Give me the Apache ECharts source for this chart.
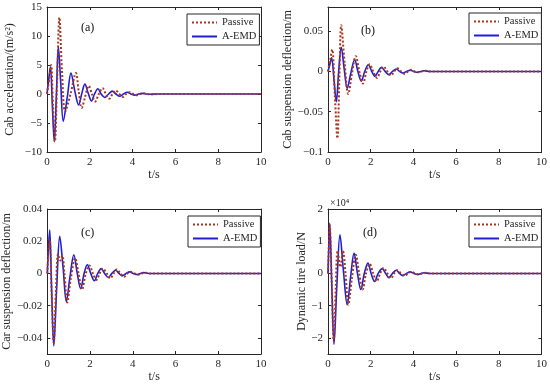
<!DOCTYPE html>
<html>
<head>
<meta charset="utf-8">
<script src="https://cdn.jsdelivr.net/npm/echarts@6/dist/echarts.min.js"></script>
<style>html,body{margin:0;padding:0;background:#fff}#c{width:550px;height:384px}</style>
</head>
<body>
<div id="c"></div>
<script>
// ---- Data (t in s, value) ----
const seriesNames = ['Passive', 'A-EMD'];
const xTicks = [0, 2, 4, 6, 8, 10];

// (a) Cab acceleration (m/s^2)
const accPassive = [[0,0],[0.1,2.5],[0.19,5.0],[0.28,-2],[0.37,-8.2],[0.47,2],[0.58,13.2],[0.7,4],[0.85,-3.0],[1.1,0],[1.35,3.6],[1.48,0.5],[1.62,-2.4],[1.78,-0.5],[1.95,1.4],[2.1,0],[2.25,-1.3],[2.42,0],[2.6,1.0],[2.75,0],[2.92,-0.8],[3.06,0],[3.22,0.6],[3.38,0],[3.55,-0.5],[3.7,0],[3.87,0.3],[4.03,0],[4.2,-0.2],[4.35,0],[4.52,0.15],[4.7,0],[4.87,-0.07],[5.2,0],[10,0]];
const accEmd = [[0,0],[0.08,2.5],[0.16,4.7],[0.25,-2],[0.34,-8.2],[0.44,0],[0.53,8.2],[0.64,2],[0.76,-4.7],[0.95,-0.5],[1.12,3.6],[1.3,0.5],[1.48,-1.9],[1.62,0],[1.77,1.7],[1.92,0.2],[2.08,-1.2],[2.22,0],[2.38,0.9],[2.53,0],[2.7,-0.6],[2.88,0],[3.05,0.5],[3.22,0],[3.4,-0.4],[3.57,0],[3.75,0.3],[3.92,0],[4.1,-0.2],[4.28,0],[4.45,0.1],[4.63,0],[4.8,-0.05],[5.1,0],[10,0]];
const accTicks = [-10, -5, 0, 5, 10, 15];

// (b) Cab suspension deflection (m)
const cabPassive = [[0,0],[0.1,0.014],[0.2,0.027],[0.32,-0.03],[0.44,-0.083],[0.53,-0.01],[0.62,0.0575],[0.78,0.01],[0.95,-0.028],[1.12,-0.003],[1.3,0.019],[1.47,0],[1.64,-0.015],[1.8,0],[1.95,0.009],[2.12,0],[2.3,-0.008],[2.45,0],[2.6,0.006],[2.78,0],[2.95,-0.005],[3.1,0],[3.25,0.004],[3.42,0],[3.6,-0.003],[3.75,0],[3.9,0.002],[4.05,0],[4.2,-0.001],[4.38,0],[4.55,0.001],[4.8,0],[10,0]];
const cabEmd = [[0,0],[0.08,0.008],[0.17,0.017],[0.28,-0.01],[0.39,-0.0375],[0.5,0],[0.62,0.030],[0.76,0.003],[0.9,-0.021],[1.07,-0.002],[1.25,0.0146],[1.4,0],[1.56,-0.012],[1.72,0],[1.89,0.0083],[2.05,0],[2.2,-0.006],[2.35,0],[2.5,0.005],[2.68,0],[2.85,-0.004],[3.02,0],[3.2,0.003],[3.35,0],[3.5,-0.002],[3.68,0],[3.85,0.0015],[4.02,0],[4.2,-0.001],[4.35,0],[4.5,0.0008],[4.75,0],[10,0]];
const cabTicks = [-0.1, -0.05, 0, 0.05];

// (c) Car suspension deflection (m)
const carPassive = [[0,0],[0.05,0.012],[0.11,0.021],[0.2,-0.012],[0.3,-0.043],[0.4,-0.012],[0.5,0.012],[0.6,0.008],[0.7,0.011],[0.8,0],[0.93,-0.018],[1.1,-0.003],[1.3,0.0095],[1.46,0],[1.62,-0.01],[1.8,0],[1.97,0.005],[2.13,0],[2.3,-0.004],[2.45,0],[2.6,0.003],[2.78,0],[2.95,-0.003],[3.1,0],[3.25,0.0025],[3.42,0],[3.6,-0.002],[3.75,0],[3.9,0.001],[4.08,0],[4.25,-0.0008],[4.42,0],[4.6,0.0005],[4.8,0],[10,0]];
const carEmd = [[0,0],[0.05,0.016],[0.11,0.027],[0.2,-0.01],[0.3,-0.045],[0.44,-0.008],[0.58,0.023],[0.74,0.003],[0.89,-0.0174],[1.06,-0.002],[1.24,0.0116],[1.4,0],[1.56,-0.0095],[1.72,0],[1.87,0.0054],[2.03,0],[2.2,-0.0045],[2.36,0],[2.52,0.003],[2.68,0],[2.85,-0.0025],[3.02,0],[3.2,0.002],[3.35,0],[3.5,-0.0015],[3.68,0],[3.85,0.001],[4.02,0],[4.2,-0.0007],[4.35,0],[4.5,0.0005],[4.75,0],[10,0]];
const carTicks = [-0.04, -0.02, 0, 0.02, 0.04];

// (d) Dynamic tire load (N)
const tirePassive = [[0,0],[0.04,8500],[0.08,15000],[0.17,-2000],[0.27,-21000],[0.36,-5000],[0.45,7000],[0.58,2000],[0.7,7000],[0.82,0],[0.95,-9700],[1.12,-1500],[1.3,5800],[1.46,0],[1.62,-5000],[1.78,0],[1.95,3000],[2.12,0],[2.28,-2500],[2.44,0],[2.6,1700],[2.78,0],[2.95,-1500],[3.1,0],[3.25,1000],[3.42,0],[3.6,-700],[3.75,0],[3.9,500],[4.08,0],[4.25,-300],[4.42,0],[4.6,200],[4.8,0],[10,0]];
const tireEmd = [[0,0],[0.04,9000],[0.08,15600],[0.17,-2000],[0.28,-22000],[0.42,-3000],[0.56,12000],[0.72,1000],[0.9,-9700],[1.06,-1000],[1.22,6300],[1.38,0],[1.54,-5000],[1.7,0],[1.87,3200],[2.02,0],[2.18,-2500],[2.35,0],[2.54,1500],[2.7,0],[2.85,-1300],[3.02,0],[3.2,1000],[3.35,0],[3.5,-700],[3.68,0],[3.85,500],[4.02,0],[4.2,-300],[4.35,0],[4.5,200],[4.75,0],[10,0]];
const tireTicks = [-20000, -10000, 0, 10000, 20000];

// ---- Layout / style ----
const FONT = '"Liberation Serif", "DejaVu Serif", serif';
const AX = '#262626';
const C_PASSIVE = '#a8361f';
const C_EMD = '#1f1fd6';
const minus = s => String(s).replace('-', '\u2212');

const panels = [
  {left:47, top:7, ymin:-10, ymax:15, ticks:accTicks, fmt:v=>minus(v), yname:'Cab acceleration/(m/s\u00B2)', gap:31,
   p:accPassive, e:accEmd, tag:'(a)', tagPos:[90,29], legPos:[187,14]},
  {left:328, top:7, ymin:-0.1, ymax:0.08, ticks:cabTicks, fmt:v=>minus(v), yname:'Cab suspension deflection/m', gap:33,
   p:cabPassive, e:cabEmd, tag:'(b)', tagPos:[370,32], legPos:[469,13]},
  {left:47, top:209, ymin:-0.05, ymax:0.04, ticks:carTicks, fmt:v=>minus(v), yname:'Car suspension deflection/m', gap:32,
   p:carPassive, e:carEmd, tag:'(c)', tagPos:[90,234], legPos:[188,216]},
  {left:328, top:209, ymin:-25000, ymax:20000, ticks:tireTicks, fmt:v=>minus(v/10000), yname:'Dynamic tire load/N', gap:20,
   p:tirePassive, e:tireEmd, tag:'(d)', tagPos:[372,234], legPos:[469,216]}
];
const W = 214, H = 145;

const option = {
  backgroundColor: '#fff',
  animation: false,
  grid: [], xAxis: [], yAxis: [], series: [], legend: [], graphic: []
};

panels.forEach((pn, i) => {
  option.grid.push({left: pn.left, top: pn.top, width: W, height: H, show: false});
  const lineCommon = {show: true, onZero: false, lineStyle: {color: AX, width: 1}};
  const tickCommon = {show: true, inside: true, length: 3, lineStyle: {color: AX, width: 1}};
  option.xAxis.push({
    type: 'value', gridIndex: i, position: 'bottom', min: 0, max: 10, interval: 2,
    axisLine: lineCommon, axisTick: tickCommon, splitLine: {show: false},
    axisLabel: {show: true, margin: 5, fontSize: 11, fontFamily: FONT, color: AX},
    name: 't/s', nameLocation: 'middle', nameGap: 15,
    nameTextStyle: {fontSize: 12, fontFamily: FONT, color: AX}
  });
  option.xAxis.push({
    type: 'value', gridIndex: i, position: 'top', min: 0, max: 10, interval: 2,
    axisLine: lineCommon, axisTick: tickCommon, splitLine: {show: false},
    axisLabel: {show: false}
  });
  option.yAxis.push({
    type: 'value', gridIndex: i, position: 'left', min: pn.ymin, max: pn.ymax,
    axisLine: lineCommon,
    axisTick: Object.assign({customValues: pn.ticks}, tickCommon),
    splitLine: {show: false},
    axisLabel: {show: true, customValues: pn.ticks, margin: 5, fontSize: 11, fontFamily: FONT, color: AX, formatter: pn.fmt},
    name: pn.yname, nameLocation: 'middle', nameGap: pn.gap, nameRotate: 90,
    nameTextStyle: {fontSize: 12, fontFamily: FONT, color: AX}
  });
  option.yAxis.push({
    type: 'value', gridIndex: i, position: 'right', min: pn.ymin, max: pn.ymax,
    axisLine: lineCommon,
    axisTick: Object.assign({customValues: pn.ticks}, tickCommon),
    splitLine: {show: false},
    axisLabel: {show: false}
  });
  option.series.push({
    name: 'A-EMD', type: 'line', xAxisIndex: 2*i, yAxisIndex: 2*i, data: pn.e,
    symbol: 'none', smooth: 0.35, z: 2,
    lineStyle: {color: C_EMD, width: 1.6}, itemStyle: {color: C_EMD}
  });
  option.series.push({
    name: 'Passive', type: 'line', xAxisIndex: 2*i, yAxisIndex: 2*i, data: pn.p,
    symbol: 'none', smooth: 0.35, z: 3,
    lineStyle: {color: C_PASSIVE, width: 2, type: [2, 2]}, itemStyle: {color: C_PASSIVE}
  });
  option.legend.push({
    data: seriesNames, orient: 'vertical', left: pn.legPos[0], top: pn.legPos[1],
    backgroundColor: '#fff', borderColor: AX, borderWidth: 1,
    padding: [3, 3, 3, 4], itemGap: 3, itemWidth: 25, itemHeight: 10,
    itemStyle: {color: 'transparent', borderWidth: 0, opacity: 0},
    textStyle: {fontSize: 10.5, fontFamily: FONT, color: AX},
    selectedMode: false
  });
  option.graphic.push({
    type: 'text', left: pn.tagPos[0] - 9, top: pn.tagPos[1] - 7,
    style: {text: pn.tag, font: '12px ' + FONT, fill: '#111'}
  });
});

option.graphic.push({
  type: 'text', left: 330, top: 198,
  style: {text: '\u00D710\u2074', font: '10px ' + FONT, fill: AX}
});

const chart = echarts.init(document.getElementById('c'), null, {renderer: 'canvas'});
chart.setOption(option);
</script>
</body>
</html>
